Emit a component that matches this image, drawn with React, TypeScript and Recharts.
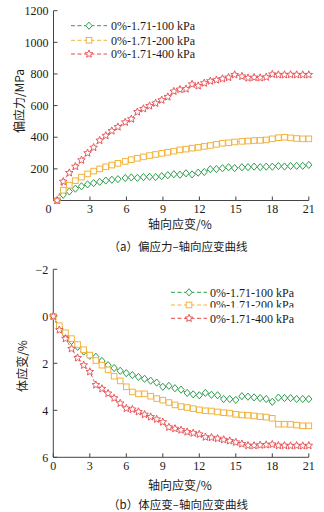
import React from 'react';
import { LineChart, Line, XAxis, YAxis, Legend } from 'recharts';

// ---------- data ----------
const strainA = [0.3, 0.8, 1.3, 1.8, 2.3, 2.8, 3.3, 3.8, 4.3, 4.8, 5.3, 5.9, 6.4, 6.9, 7.4, 7.9, 8.4, 8.9, 9.4, 9.9, 10.4, 10.9, 11.4, 11.9, 12.4, 12.9, 13.4, 13.9, 14.4, 14.9, 15.5, 16.0, 16.5, 17.0, 17.5, 18.0, 18.5, 19.0, 19.5, 20.0, 20.5, 21.0];
const devi100 = [0, 36, 57, 75, 90, 102, 110, 118, 126, 131, 135, 142, 146, 143, 148, 150, 148, 154, 160, 166, 163, 172, 165, 176, 180, 198, 199, 204, 210, 205, 210, 211, 214, 211, 214, 214, 218, 215, 218, 219, 219, 225];
const devi200 = [0, 65, 97, 125, 148, 168, 186, 200, 213, 224, 235, 247, 258, 267, 276, 284, 291, 298, 305, 312, 320, 325, 331, 336, 342, 348, 355, 362, 365, 370, 374, 376, 379, 380, 383, 390, 397, 400, 396, 392, 390, 390];
const devi400 = [0, 120, 175, 215, 255, 300, 335, 380, 410, 440, 465, 495, 515, 560, 580, 598, 615, 635, 655, 690, 702, 705, 735, 725, 742, 755, 762, 770, 778, 795, 785, 775, 778, 776, 780, 798, 795, 795, 796, 795, 795, 795];

const strainB = [0, 0.5, 1, 1.5, 2, 2.5, 3, 3.5, 4, 4.5, 5, 5.5, 6, 6.5, 7, 7.5, 8, 8.5, 9, 9.5, 10, 10.5, 11, 11.5, 12, 12.5, 13, 13.5, 14, 14.5, 15, 15.5, 16, 16.5, 17, 17.5, 18, 18.5, 19, 19.5, 20, 20.5, 21];
const vol100 = [0, 0.45, 0.8, 1.05, 1.3, 1.5, 1.68, 1.72, 1.9, 2.08, 2.2, 2.32, 2.42, 2.5, 2.58, 2.66, 2.74, 2.82, 3.0, 2.96, 3.06, 3.12, 3.26, 3.32, 3.36, 3.26, 3.34, 3.36, 3.52, 3.52, 3.56, 3.4, 3.42, 3.45, 3.48, 3.52, 3.64, 3.46, 3.48, 3.48, 3.52, 3.52, 3.52];
const vol200 = [0, 0.4, 0.7, 0.95, 1.2, 1.42, 1.65, 1.88, 2.08, 2.28, 2.55, 2.75, 3.0, 3.22, 3.3, 3.3, 3.4, 3.5, 3.57, 3.67, 3.77, 3.84, 3.88, 3.93, 3.98, 4.02, 4.03, 4.07, 4.1, 4.12, 4.17, 4.2, 4.21, 4.24, 4.27, 4.29, 4.34, 4.59, 4.59, 4.6, 4.63, 4.66, 4.66];
const vol400 = [0, 0.58, 0.95, 1.38, 1.77, 2.08, 2.36, 2.92, 3.08, 3.28, 3.48, 3.7, 3.92, 3.96, 4.06, 4.18, 4.28, 4.38, 4.5, 4.72, 4.78, 4.84, 4.92, 4.97, 5.02, 5.14, 5.16, 5.2, 5.25, 5.3, 5.36, 5.43, 5.5, 5.5, 5.48, 5.47, 5.45, 5.5, 5.5, 5.51, 5.5, 5.51, 5.5];

const xTicks = [0, 3, 6, 9, 12, 15, 18, 21];
const yTicksA = [200, 400, 600, 800, 1000, 1200];
const yTicksB = [-2, 0, 2, 4, 6];
const seriesLabels = ['0%-1.71-100 kPa', '0%-1.71-200 kPa', '0%-1.71-400 kPa'];

const rowsA = strainA.map((x, i) => ({ x, s1: devi100[i], s2: devi200[i], s3: devi400[i] }));
const rowsB = strainB.map((x, i) => ({ x, s1: vol100[i], s2: vol200[i], s3: vol400[i] }));

// ---------- style ----------
const SERIF = '"Liberation Serif", "Times New Roman", serif';
const CJK = '"Noto Sans CJK SC", "Noto Sans", sans-serif';
const GREEN = '#2f9e4f';
const ORANGE = '#f2b33d';
const RED = '#e5484d';
const COLORS = [GREEN, ORANGE, RED];
const AXIS = '#444';
const TXT = '#1a1a1a';

type MP = { cx: number; cy: number; color: string };
const Diamond = ({ cx, cy, color }: MP) => (
  <polygon points={`${cx},${cy - 3.6} ${cx + 3.1},${cy} ${cx},${cy + 3.6} ${cx - 3.1},${cy}`} fill="#fff" stroke={color} strokeWidth={1} />
);
const Square = ({ cx, cy, color }: MP) => (
  <rect x={cx - 2.8} y={cy - 2.8} width={5.6} height={5.6} fill="#fff" stroke={color} strokeWidth={1} />
);
const Star = ({ cx, cy, color }: MP) => {
  const pts: string[] = [];
  for (let k = 0; k < 10; k++) {
    const r = k % 2 === 0 ? 4 : 1.8;
    const a = -Math.PI / 2 + (k * Math.PI) / 5;
    pts.push(`${cx + r * Math.cos(a)},${cy + r * Math.sin(a)}`);
  }
  return <polygon points={pts.join(' ')} fill="#fff" stroke={color} strokeWidth={0.9} />;
};
const MARKERS = [Diamond, Square, Star];

const makeDot = (si: number) => (p: any) => {
  const M = MARKERS[si];
  if (p.cx == null || p.cy == null) return <g key={`e${si}-${p.index}`} />;
  return <M key={`m${si}-${p.index}`} cx={p.cx} cy={p.cy} color={COLORS[si]} />;
};

const XTick = (shiftZero: boolean) => (p: any) => (
  <text x={p.x + (shiftZero && p.payload.value === 0 ? -5 : 0)} y={p.y} dy="0.71em" textAnchor="middle"
    fontFamily={SERIF} fontSize={12} fill={TXT}>{p.payload.value}</text>
);
const YTick = (p: any) => (
  <text x={p.x} y={p.y} dy="0.35em" textAnchor="end" fontFamily={SERIF} fontSize={12} fill={TXT}>
    {String(p.payload.value).replace('-', '\u2212')}
  </text>
);

const LegendBox = ({ rows, textX, clipSecond }: { rows: number[]; textX: number; clipSecond: boolean }) => (
  <svg width={150} height={44} style={{ display: 'block', overflow: 'visible' }}>
    {seriesLabels.map((lab, i) => {
      const M = MARKERS[i];
      return (
        <g key={lab}>
          <line x1={0} x2={36} y1={rows[i]} y2={rows[i]} stroke={COLORS[i]} strokeWidth={1} strokeDasharray="4 2.5" />
          <M cx={18} cy={rows[i]} color={COLORS[i]} />
          <text x={textX} y={rows[i]} dy="0.35em" fontFamily={SERIF} fontSize={12} fill={TXT}>{lab}</text>
          {clipSecond && i === 1 ? (
            <rect x={textX - 1} y={rows[i] + 2.6} width={100} height={5} fill="#fff" />
          ) : null}
        </g>
      );
    })}
  </svg>
);

const renderLines = () =>
  ['s1', 's2', 's3'].map((k, i) => (
    <Line key={k} type="linear" dataKey={k} stroke={COLORS[i]} strokeWidth={0.9} strokeDasharray="3 2"
      dot={makeDot(i)} activeDot={false} isAnimationActive={false} legendType="none" />
  ));

export default function App() {
  return (
    <div style={{ position: 'absolute', left: 0, top: 0, width: 324, height: 512, background: '#fff', overflow: 'hidden' }}>
      <div style={{ position: 'absolute', left: 0, top: 0 }}>
        <LineChart width={324} height={256} data={rowsA} margin={{ top: 10.7, right: 15.2, bottom: 54.5, left: 52.5 }}>
          <XAxis type="number" dataKey="x" domain={[0, 21]} ticks={xTicks} interval={0} height={1}
            axisLine={{ stroke: AXIS }} tickLine={{ stroke: AXIS }} tickSize={-4} tickMargin={8} tick={XTick(true)} />
          <YAxis type="number" domain={[0, 1200]} ticks={yTicksA} interval={0} width={1}
            axisLine={{ stroke: AXIS }} tickLine={{ stroke: AXIS }} tickSize={-4} tickMargin={9} tick={YTick} />
          {renderLines()}
          <Legend layout="vertical" align="center" verticalAlign="middle"
            wrapperStyle={{ left: 70.5, top: 18, width: 150, height: 44 }}
            content={() => <LegendBox rows={[7.7, 22.3, 36]} textX={40} clipSecond={false} />} />
        </LineChart>
      </div>
      <div style={{ position: 'absolute', left: 0, top: 256 }}>
        <LineChart width={324} height={256} data={rowsB} margin={{ top: 13.3, right: 15.2, bottom: 53.7, left: 52.3 }}>
          <XAxis type="number" dataKey="x" domain={[0, 21]} ticks={xTicks} interval={0} height={1}
            axisLine={{ stroke: AXIS }} tickLine={{ stroke: AXIS }} tickSize={-4} tickMargin={8} tick={XTick(false)} />
          <YAxis type="number" domain={[-2, 6]} ticks={yTicksB} interval={0} width={1} reversed
            axisLine={{ stroke: AXIS }} tickLine={{ stroke: AXIS }} tickSize={-4} tickMargin={9} tick={YTick} />
          {renderLines()}
          <Legend layout="vertical" align="center" verticalAlign="middle"
            wrapperStyle={{ left: 171, top: 29, width: 150, height: 44 }}
            content={() => <LegendBox rows={[7.3, 20, 33.3]} textX={39} clipSecond={true} />} />
        </LineChart>
      </div>
      <svg width={324} height={512} style={{ position: 'absolute', left: 0, top: 0, pointerEvents: 'none' }}>
        <text x={180} y={223} textAnchor="middle" dominantBaseline="central" fontFamily={CJK} fontSize={12} fill={TXT}>轴向应变/%</text>
        <text x={178} y={246} textAnchor="middle" dominantBaseline="central" fontFamily={CJK} fontSize={11.5} fill={TXT}>（a）偏应力–轴向应变曲线</text>
        <text transform="rotate(-90 18 101)" x={18} y={101} textAnchor="middle" dominantBaseline="central" fontFamily={CJK} fontSize={12} fill={TXT}>偏应力/MPa</text>
        <text x={180} y={484} textAnchor="middle" dominantBaseline="central" fontFamily={CJK} fontSize={12} fill={TXT}>轴向应变/%</text>
        <text x={178} y={504} textAnchor="middle" dominantBaseline="central" fontFamily={CJK} fontSize={11.5} fill={TXT}>（b）体应变–轴向应变曲线</text>
        <text transform="rotate(-90 21.5 366)" x={21.5} y={366} textAnchor="middle" dominantBaseline="central" fontFamily={CJK} fontSize={12} fill={TXT}>体应变/%</text>
      </svg>
    </div>
  );
}
